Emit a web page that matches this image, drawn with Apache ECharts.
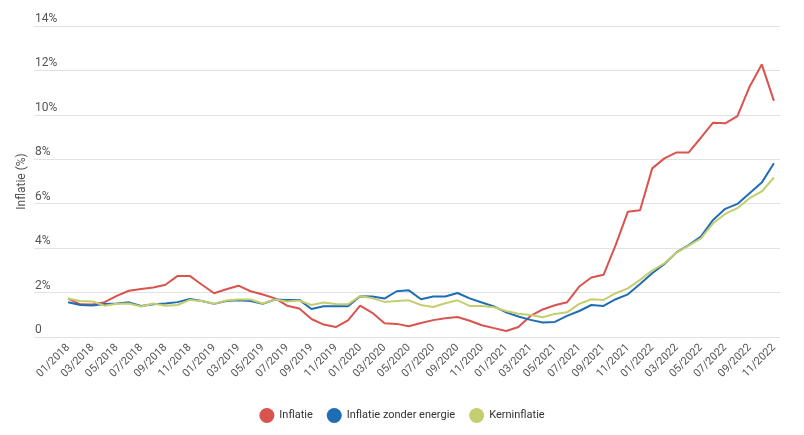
<!DOCTYPE html>
<html>
<head>
<meta charset="utf-8">
<script src="https://cdn.jsdelivr.net/npm/echarts@6/dist/echarts.min.js"></script>
<style>html,body{margin:0;padding:0;background:#fff}#c{width:804px;height:435px}</style>
</head>
<body>
<div id="c"></div>
<script>
const months = [];
for (let y = 2018; y <= 2022; y++) {
  for (let m = 1; m <= 12; m++) {
    if (y === 2022 && m > 11) break;
    months.push((m < 10 ? '0' + m : '' + m) + '/' + y);
  }
}
const inflatie = [1.73,1.47,1.46,1.57,1.85,2.08,2.16,2.23,2.35,2.75,2.75,2.35,
  1.97,2.15,2.31,2.06,1.91,1.74,1.41,1.28,0.81,0.56,0.45,0.75,
  1.41,1.09,0.62,0.59,0.48,0.63,0.76,0.84,0.90,0.73,0.53,0.40,
  0.27,0.45,0.95,1.24,1.43,1.56,2.27,2.68,2.80,4.15,5.64,5.71,
  7.59,8.04,8.31,8.31,8.97,9.65,9.62,9.94,11.27,12.27,10.63];
const zonderEnergie = [1.56,1.44,1.42,1.49,1.51,1.56,1.40,1.47,1.51,1.57,1.71,1.62,1.49,1.62,1.65,1.62,1.49,1.69,1.67,
  1.67,1.26,1.38,1.38,1.38,1.83,1.82,1.73,2.06,2.10,1.70,1.82,1.82,1.98,1.74,1.55,1.38,1.11,0.92,0.77,0.65,0.68,
  0.95,1.17,1.44,1.40,1.70,1.92,2.39,2.87,3.29,3.81,4.14,4.52,5.27,5.77,5.99,6.47,6.95,7.82];
const kerninflatie = [1.73,1.62,1.60,1.41,1.50,1.51,1.37,1.51,1.41,1.44,1.67,1.62,1.49,1.64,1.69,1.69,1.51,1.69,1.60,
  1.64,1.44,1.55,1.49,1.47,1.85,1.74,1.58,1.62,1.65,1.44,1.35,1.52,1.65,1.40,1.40,1.34,1.17,1.05,0.99,0.89,1.04,
  1.11,1.49,1.70,1.67,1.97,2.19,2.57,2.99,3.32,3.80,4.11,4.44,5.12,5.54,5.80,6.25,6.55,7.18];
const seriesNames = ['Inflatie', 'Inflatie zonder energie', 'Kerninflatie'];
const colors = ['#d9534f', '#1f6db2', '#c4ce6e'];

const chart = echarts.init(document.getElementById('c'));
const font = 'Roboto, sans-serif';
chart.setOption({
  animation: false,
  color: colors,
  textStyle: { fontFamily: font },
  grid: [
    { left: 34, right: 24, top: 26, bottom: 98 },
    { left: 62, right: 24, top: 26, bottom: 98 }
  ],
  legend: {
    bottom: 7, left: 'center', icon: 'circle', itemWidth: 15, itemHeight: 15, itemGap: 14,
    textStyle: { fontSize: 11, color: '#333', fontFamily: font },
    data: seriesNames
  },
  xAxis: [
    { gridIndex: 0, type: 'value', min: 0, max: 1, show: false },
    {
      gridIndex: 1, type: 'category', data: months, boundaryGap: true,
      axisLine: { show: false }, axisTick: { show: false },
      axisLabel: { interval: 1, rotate: 45, fontSize: 11, color: '#555', margin: 9, fontFamily: font }
    }
  ],
  yAxis: [
    {
      gridIndex: 0, type: 'value', min: 0, max: 14, interval: 2,
      name: 'Inflatie (%)', nameLocation: 'middle', nameGap: 6, nameMoveOverlap: false,
      nameTextStyle: { fontSize: 12, color: '#555', fontFamily: font },
      axisLine: { show: false }, axisTick: { show: false },
      splitLine: { lineStyle: { color: '#e2e2e2', width: 1 } },
      axisLabel: {
        inside: true, verticalAlign: 'bottom', margin: 1, fontSize: 12, color: '#555', fontFamily: font,
        padding: [0, 0, 1, 0],
        formatter: v => v === 0 ? '0' : v + '%'
      }
    },
    {
      gridIndex: 1, type: 'value', min: 0, max: 14, interval: 2, show: false
    }
  ],
  series: [
    { name: seriesNames[0], data: inflatie },
    { name: seriesNames[1], data: zonderEnergie },
    { name: seriesNames[2], data: kerninflatie }
  ].map(s => Object.assign({
    type: 'line', xAxisIndex: 1, yAxisIndex: 1, showSymbol: false, symbol: 'circle',
    lineStyle: { width: 2 }
  }, s))
});
</script>
</body>
</html>
